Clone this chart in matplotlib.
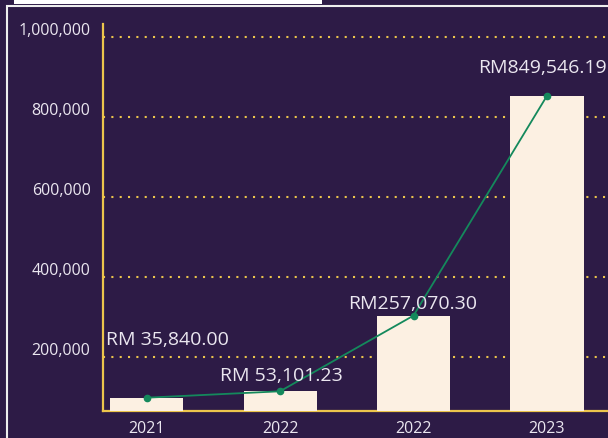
import matplotlib.pyplot as plt
from matplotlib.patches import Rectangle
from matplotlib.transforms import ScaledTranslation

plt.rcParams["font.family"] = ["Open Sans", "DejaVu Sans"]

years = ["2021", "2022", "2022", "2023"]
revenue = [35840.00, 53101.23, 257070.30, 849546.19]
labels = ["RM 35,840.00", "RM 53,101.23", "RM257,070.30", "RM849,546.19"]
tick_vals = [200000, 400000, 600000, 800000, 1000000]
tick_text = ["200,000", "400,000", "600,000", "800,000", "1,000,000"]

# label offsets in pixels (dx, dy) from each point
label_offsets = [(21, 58), (1, 15), (-1, 12), (-5, 28)]

bg = "#2d1b46"
gold = "#ecc54c"
cream = "#fcf0e2"
green = "#14895c"
txt = "#ebe7f0"

fig = plt.figure(figsize=(6.08, 4.38), dpi=100)
fig.patch.set_facecolor(bg)

ax = fig.add_axes([103 / 608, 27 / 438, 1 - 103 / 608, 387 / 438])
ax.set_facecolor(bg)
x = list(range(len(years)))
ax.set_xlim(-0.326, 3.457)
ax.set_ylim(65750, 1033250)
ax.set_yticks(tick_vals)
ax.set_yticklabels(tick_text)
ax.set_xticks(x)
ax.set_xticklabels(years)
ax.tick_params(axis="both", length=0, colors=txt, labelsize=11.5)
ax.tick_params(axis="y", pad=9)
ax.tick_params(axis="x", pad=7)
for lab in ax.get_yticklabels():
    lab.set_transform(lab.get_transform() + ScaledTranslation(0, 8 / 100, fig.dpi_scale_trans))
ax.grid(axis="y", color=gold, linewidth=1.5, linestyle=(0, (1, 3)))
ax.set_axisbelow(True)
for side in ["top", "right"]:
    ax.spines[side].set_visible(False)
for side in ["left", "bottom"]:
    ax.spines[side].set_color(gold)
    ax.spines[side].set_linewidth(1.6)

ax2 = ax.twinx()
ax2.set_ylim(0, 1043000)
ax2.patch.set_visible(False)
for s in ax2.spines.values():
    s.set_visible(False)
ax2.set_yticks([])

ax2.bar(x, revenue, width=0.547, color=cream, zorder=2)
ax2.plot(x, revenue, color=green, linewidth=1.3, marker="o", markersize=4.5, zorder=3)
for xi, v, lab, (dx, dy) in zip(x, revenue, labels, label_offsets):
    ax2.annotate(lab, (xi, v), xytext=(dx * 0.72, dy * 0.72), textcoords="offset points",
                 ha="center", va="center", color=txt, fontsize=14, zorder=4)

# white frame and tab at the top
fig.add_artist(Rectangle((7 / 608, -0.1), 1.0, (438 - 5.5) / 438 + 0.1,
                         transform=fig.transFigure, fill=False, ec="#eeeeee", lw=1.5))
fig.add_artist(Rectangle((14 / 608, (438 - 4) / 438), (322 - 14) / 608, 0.1,
                         transform=fig.transFigure, fc="white", ec="none"))

fig.savefig("out.png", dpi=100, facecolor=bg)
